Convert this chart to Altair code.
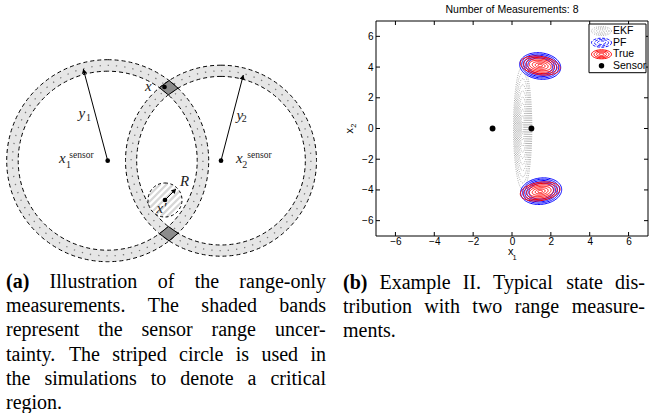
import math
import altair as alt
import pandas as pd

W, H = 650, 413

# ===================== (a) Illustration (pixel units) =====================
ring_cx = [107.7, 221.0]
ring_cy = [160.7, 160.7]
ring_r_in = [89.5, 84.3]
ring_r_out = [101.0, 95.5]

crit_cx = [165.0]
crit_cy = [200.0]
crit_r = [17.0]

dot_x = [107.7, 221.0, 164.5, 165.0]
dot_y = [160.7, 160.7, 87.0, 200.0]

arrow_x0 = [107.7, 221.0, 165.0]
arrow_y0 = [160.7, 160.7, 200.0]
arrow_x1 = [83.3, 243.3, 176.0]
arrow_y1 = [69.0, 75.0, 189.0]

sym_text = ["x", "x", "y", "y", "x", "R", "x\u2032"]
sym_x = [59.0, 236.0, 78.5, 236.5, 145.0, 180.0, 156.5]
sym_y = [163.3, 162.7, 118.3, 120.0, 90.7, 186.0, 213.3]
sub_text = ["1", "2", "1", "2"]
sub_x = [66.0, 242.3, 86.0, 241.7]
sub_y = [167.5, 167.5, 120.5, 122.0]
sup_text = ["sensor", "sensor"]
sup_x = [69.3, 247.3]
sup_y = [158.3, 158.0]

# ===================== (b) Example II =====================
title_b = "Number of Measurements: 8"
tick_values = [-6, -4, -2, 0, 2, 4, 6]
sensor_x1 = [-1.0, 1.0]
sensor_x2 = [0.0, 0.0]

ekf_cx, ekf_cy, ekf_angle = [0.55], [0.05], [0.0]
ekf_a, ekf_b = 0.47, 4.0
ekf_levels = [1.0, 0.9, 0.8, 0.7, 0.6, 0.5, 0.4, 0.3, 0.2, 0.1]

pf_cx = [1.45, 1.5]
pf_cy = [4.07, -4.08]
pf_angle = [-15.0, 15.0]
pf_a, pf_b = 1.07, 0.85
pf_levels = [1.0, 0.9, 0.8, 0.7, 0.6]

true_cx = [1.45, 1.45]
true_cy = [4.1, -4.1]
true_angle = [-13.0, 13.0]
true_a, true_b = 1.04, 0.59
true_levels = [1.0, 0.85, 0.7, 0.55, 0.4, 0.25, 0.12]

legend_labels = ["EKF", "PF", "True", "Sensor"]

caption_a = [
    "(a) Illustration of the range-only",
    "measurements. The shaded bands",
    "represent the sensor range uncer-",
    "tainty. The striped circle is used in",
    "the simulations to denote a critical",
    "region.",
]
caption_b = [
    "(b) Example II. Typical state dis-",
    "tribution with two range measure-",
    "ments.",
]

# ===================== layout =====================
PL, PR, PT, PB = 376.0, 648.0, 21.0, 236.0
LEG = dict(x0=589.0, x1=646.0, y0=24.0, y1=72.7, icon=601.5, text=613.0,
           rows=[31.0, 42.7, 54.3, 65.8])
CAP_SIZE = 20


def px(f):
    return alt.X(f, type="quantitative", scale=None, axis=None)


def py(f):
    return alt.Y(f, type="quantitative", scale=None, axis=None)


XS = alt.Scale(domain=[-7, 7], range=[PL, PR], nice=False, zero=False)
YS = alt.Scale(domain=[-7, 7], range=[PB, PT], nice=False, zero=False)
XA = alt.Axis(values=tick_values, offset=-(H - PB), ticks=False, domain=False, grid=False,
              labelFont="Liberation Sans", labelFontSize=10, labelColor="black",
              labelPadding=0, title=None, format="d")
YA = alt.Axis(values=tick_values, offset=-PL, ticks=False, domain=False, grid=False,
              labelFont="Liberation Sans", labelFontSize=10, labelColor="black",
              labelPadding=3, title=None, format="d")


def bx(f):
    return alt.X(f, type="quantitative", scale=XS, axis=XA)


def by(f):
    return alt.Y(f, type="quantitative", scale=YS, axis=YA)


layers = []

# ---------- (a) bands ----------
rings = pd.DataFrame({"cx": ring_cx, "cy": ring_cy, "ri": ring_r_in, "ro": ring_r_out})
rings["rm"] = (rings["ri"] + rings["ro"]) / 2
rings["zero"] = 0.0

layers.append(alt.Chart(rings).mark_arc(theta=0, theta2=2 * math.pi, fill="#e6e6e6").encode(
    x=px("cx"), y=py("cy"), radius=alt.Radius("ro:Q", scale=None), radius2=alt.Radius2("ri:Q")))
layers.append(alt.Chart(rings).mark_arc(theta=0, theta2=2 * math.pi, filled=False, color="#7a7a7a",
                                        strokeWidth=1.3, strokeDash=[1.3, 7]).encode(
    x=px("cx"), y=py("cy"), radius=alt.Radius("rm:Q", scale=None), radius2=alt.Radius2("zero:Q")))
layers.append(alt.Chart(rings).mark_arc(theta=0, theta2=2 * math.pi, filled=False, color="black",
                                        strokeWidth=1, strokeDash=[4, 3]).encode(
    x=px("cx"), y=py("cy"), radius=alt.Radius("ro:Q", scale=None), radius2=alt.Radius2("ri:Q")))


# ---------- (a) overlap quadrilaterals ----------
def circ_int(r1, r2, upper):
    d = ring_cx[1] - ring_cx[0]
    a = (d * d + r1 * r1 - r2 * r2) / (2 * d)
    h = math.sqrt(max(r1 * r1 - a * a, 0))
    return ring_cx[0] + a, ring_cy[0] + (-h if upper else h)


qrows = []
for qi, upper in enumerate([True, False]):
    corners = [(ring_r_in[0], ring_r_out[1]), (ring_r_out[0], ring_r_out[1]),
               (ring_r_out[0], ring_r_in[1]), (ring_r_in[0], ring_r_in[1])]
    pts = [circ_int(r1, r2, upper) for r1, r2 in corners]
    pts.append(pts[0])
    for i, (qx, qy) in enumerate(pts):
        qrows.append({"id": qi, "i": i, "x": qx, "y": qy})
quads = pd.DataFrame(qrows)
layers.append(alt.Chart(quads).mark_line(fill="#8c8c8c", color="black", strokeWidth=1).encode(
    x=px("x"), y=py("y"), detail="id:N", order="i:Q"))

# ---------- (a) critical region ----------
crit = pd.DataFrame({"cx": crit_cx, "cy": crit_cy, "r": crit_r})
crit["size"] = (2 * crit["r"]) ** 2
layers.append(alt.Chart(crit).mark_point(shape="circle", filled=True, color="white", opacity=1).encode(
    x=px("cx"), y=py("cy"), size=alt.Size("size:Q", scale=None)))
srows = []
r0 = crit_r[0]
nx, ny = 1 / math.sqrt(2), 1 / math.sqrt(2)
dx, dy = 1 / math.sqrt(2), -1 / math.sqrt(2)
k = 0
s = -r0 + 2.5
while s < r0 - 1:
    L = math.sqrt(r0 * r0 - s * s) - 0.8
    mx, my = crit_cx[0] + s * nx, crit_cy[0] + s * ny
    srows.append({"id": k, "i": 0, "x": mx - L * dx, "y": my - L * dy})
    srows.append({"id": k, "i": 1, "x": mx + L * dx, "y": my + L * dy})
    k += 1
    s += 4.6
stripes = pd.DataFrame(srows)
layers.append(alt.Chart(stripes).mark_line(color="#d6d6d6", strokeWidth=2.2).encode(
    x=px("x"), y=py("y"), detail="id:N", order="i:Q"))
crit["zero"] = 0.0
layers.append(alt.Chart(crit).mark_arc(theta=0, theta2=2 * math.pi, filled=False, color="black",
                                       strokeWidth=1, strokeDash=[3, 2.5]).encode(
    x=px("cx"), y=py("cy"), radius=alt.Radius("r:Q", scale=None), radius2=alt.Radius2("zero:Q")))

# ---------- (a) arrows ----------
arows, heads = [], []
for j in range(len(arrow_x0)):
    ax0, ay0, ax1, ay1 = arrow_x0[j], arrow_y0[j], arrow_x1[j], arrow_y1[j]
    arows.append({"id": j, "i": 0, "x": ax0, "y": ay0})
    arows.append({"id": j, "i": 1, "x": ax1, "y": ay1})
    ln = math.hypot(ax1 - ax0, ay1 - ay0)
    ux, uy = (ax1 - ax0) / ln, (ay1 - ay0) / ln
    ang = math.degrees(math.atan2(ux, -uy)) % 360
    heads.append({"x": ax1 - 2.2 * ux, "y": ay1 - 2.2 * uy, "ang": ang})
layers.append(alt.Chart(pd.DataFrame(arows)).mark_line(color="black", strokeWidth=1).encode(
    x=px("x"), y=py("y"), detail="id:N", order="i:Q"))
layers.append(alt.Chart(pd.DataFrame(heads)).mark_point(shape="triangle-up", filled=True, color="black",
                                                        size=28, opacity=1).encode(
    x=px("x"), y=py("y"), angle=alt.Angle("ang:Q", scale=None)))

layers.append(alt.Chart(pd.DataFrame({"x": dot_x, "y": dot_y})).mark_point(
    shape="circle", filled=True, color="black", size=22, opacity=1).encode(x=px("x"), y=py("y")))

# ---------- (a) math labels ----------
layers.append(alt.Chart(pd.DataFrame({"x": sym_x, "y": sym_y, "t": sym_text})).mark_text(
    align="left", baseline="alphabetic", font="Liberation Serif", fontStyle="italic",
    fontSize=15, color="#222").encode(x=px("x"), y=py("y"), text="t:N"))
layers.append(alt.Chart(pd.DataFrame({"x": sub_x, "y": sub_y, "t": sub_text})).mark_text(
    align="left", baseline="alphabetic", font="Liberation Serif", fontSize=10, color="#222").encode(
    x=px("x"), y=py("y"), text="t:N"))
layers.append(alt.Chart(pd.DataFrame({"x": sup_x, "y": sup_y, "t": sup_text})).mark_text(
    align="left", baseline="alphabetic", font="Liberation Serif", fontSize=9.5, color="#222").encode(
    x=px("x"), y=py("y"), text="t:N"))

# ---------- (b) frame ----------
frame = pd.DataFrame({"a": [-7.0], "b": [7.0], "c": [-7.0], "d": [7.0]})
layers.append(alt.Chart(frame).mark_rect(fill="white", stroke="black", strokeWidth=1).encode(
    x=bx("a"), x2="b", y=by("c"), y2="d"))

ticks = pd.DataFrame({"t": tick_values})
layers.append(alt.Chart(ticks).mark_rule(color="black").encode(x=bx("t"), y=alt.value(PB), y2=alt.value(PB - 4)))
layers.append(alt.Chart(ticks).mark_rule(color="black").encode(x=bx("t"), y=alt.value(PT), y2=alt.value(PT + 4)))
layers.append(alt.Chart(ticks).mark_rule(color="black").encode(y=by("t"), x=alt.value(PL), x2=alt.value(PL + 4)))
layers.append(alt.Chart(ticks).mark_rule(color="black").encode(y=by("t"), x=alt.value(PR), x2=alt.value(PR - 4)))


# ---------- (b) contours ----------
def ellipse_rows(cxs, cys, angles, a, b, levels, n=90):
    rows = []
    for j, (cx, cy, angd) in enumerate(zip(cxs, cys, angles)):
        th = math.radians(angd)
        for kk, sc in enumerate(levels):
            for i in range(n + 1):
                p = 2 * math.pi * i / n
                ex, ey = a * sc * math.cos(p), b * sc * math.sin(p)
                rows.append({"id": f"{j}_{kk}", "i": i,
                             "x1": cx + ex * math.cos(th) - ey * math.sin(th),
                             "x2": cy + ex * math.sin(th) + ey * math.cos(th)})
    return pd.DataFrame(rows)


ekf = ellipse_rows(ekf_cx, ekf_cy, ekf_angle, ekf_a, ekf_b, ekf_levels)
pf = ellipse_rows(pf_cx, pf_cy, pf_angle, pf_a, pf_b, pf_levels)
tru = ellipse_rows(true_cx, true_cy, true_angle, true_a, true_b, true_levels)
layers.append(alt.Chart(ekf).mark_line(color="#999999", strokeWidth=0.8, strokeDash=[1, 1.3]).encode(
    x=bx("x1"), y=by("x2"), detail="id:N", order="i:Q"))
layers.append(alt.Chart(pf).mark_line(color="#0000ff", strokeWidth=1).encode(
    x=bx("x1"), y=by("x2"), detail="id:N", order="i:Q"))
layers.append(alt.Chart(tru).mark_line(color="#ff0000", strokeWidth=1).encode(
    x=bx("x1"), y=by("x2"), detail="id:N", order="i:Q"))
layers.append(alt.Chart(pd.DataFrame({"x1": sensor_x1, "x2": sensor_x2})).mark_point(
    shape="circle", filled=True, color="black", size=34, opacity=1).encode(x=bx("x1"), y=by("x2")))

# ---------- (b) title and axis titles ----------
layers.append(alt.Chart(pd.DataFrame({"x": [(PL + PR) / 2], "y": [10.0], "t": [title_b]})).mark_text(
    font="Liberation Sans", fontSize=10.5, baseline="middle", color="black").encode(
    x=px("x"), y=py("y"), text="t:N"))
axt = pd.DataFrame({"x": [510.8, 350.0], "y": [252.3, 130.7], "t": ["x", "x"], "a": [0, 270]})
axs = pd.DataFrame({"x": [514.6, 353.6], "y": [258.0, 125.6], "t": ["1", "2"], "a": [0, 270]})
layers.append(alt.Chart(axt).mark_text(font="Liberation Sans", fontSize=11, baseline="middle",
                                       color="black").encode(
    x=px("x"), y=py("y"), text="t:N", angle=alt.Angle("a:Q", scale=None)))
layers.append(alt.Chart(axs).mark_text(font="Liberation Sans", fontSize=7.5, baseline="middle",
                                       color="black").encode(
    x=px("x"), y=py("y"), text="t:N", angle=alt.Angle("a:Q", scale=None)))

# ---------- (b) legend ----------
layers.append(alt.Chart(pd.DataFrame({"a": [LEG["x0"]], "b": [LEG["x1"]], "c": [LEG["y0"]], "d": [LEG["y1"]]}))
              .mark_rect(fill="white", stroke="black", strokeWidth=1).encode(
    x=px("a"), x2="b", y=py("c"), y2="d"))


def icon_rows(cy, rx, ry, levels, n=40):
    rows = []
    for kk, sc in enumerate(levels):
        for i in range(n + 1):
            p = 2 * math.pi * i / n
            rows.append({"id": kk, "i": i, "x": LEG["icon"] + rx * sc * math.cos(p),
                         "y": cy + ry * sc * math.sin(p)})
    return pd.DataFrame(rows)


layers.append(alt.Chart(icon_rows(LEG["rows"][0], 10, 4.5, [1.0, 0.75, 0.5, 0.25])).mark_line(
    color="#999999", strokeWidth=0.8, strokeDash=[1, 1.3]).encode(
    x=px("x"), y=py("y"), detail="id:N", order="i:Q"))
layers.append(alt.Chart(icon_rows(LEG["rows"][1], 10, 4.5, [1.0, 0.7, 0.4])).mark_line(
    color="#0000ff", strokeWidth=1, strokeDash=[3, 1.5]).encode(
    x=px("x"), y=py("y"), detail="id:N", order="i:Q"))
layers.append(alt.Chart(icon_rows(LEG["rows"][2], 10, 4.5, [1.0, 0.75, 0.5, 0.25])).mark_line(
    color="#ff0000", strokeWidth=1).encode(
    x=px("x"), y=py("y"), detail="id:N", order="i:Q"))
layers.append(alt.Chart(pd.DataFrame({"x": [LEG["icon"]], "y": [LEG["rows"][3]]})).mark_point(
    shape="circle", filled=True, color="black", size=30, opacity=1).encode(x=px("x"), y=py("y")))
layers.append(alt.Chart(pd.DataFrame({"x": [LEG["text"]] * 4, "y": LEG["rows"], "t": legend_labels}))
              .mark_text(align="left", baseline="middle", font="Liberation Sans", fontSize=10.5,
                         color="black").encode(x=px("x"), y=py("y"), text="t:N"))

# ---------- captions (justified using Times metrics) ----------
TR = {' ': 250, '(': 333, ')': 333, '-': 333, '.': 250, 'a': 444, 'b': 500, 'c': 444, 'd': 500,
      'e': 444, 'f': 333, 'g': 500, 'h': 500, 'i': 278, 'j': 278, 'k': 500, 'l': 278, 'm': 778,
      'n': 500, 'o': 500, 'p': 500, 'q': 500, 'r': 333, 's': 389, 't': 278, 'u': 500, 'v': 500,
      'w': 722, 'x': 500, 'y': 500, 'z': 444, 'I': 333, 'T': 611, 'E': 611}
TB = {'(': 333, ')': 333, 'a': 500, 'b': 556}


def wid(s, bold):
    tab = TB if bold else TR
    return sum(tab.get(ch, 500) for ch in s) / 1000 * CAP_SIZE


def layout_caption(lines, left, right, base0, lead):
    rows = []
    for li, line in enumerate(lines):
        words = line.split()
        yb = base0 + li * lead
        bolds = [li == 0 and wi == 0 for wi in range(len(words))]
        widths = [wid(w, b) for w, b in zip(words, bolds)]
        if li == len(lines) - 1 or len(words) == 1:
            gap = 0.25 * CAP_SIZE
        else:
            gap = (right - left - sum(widths)) / (len(words) - 1)
        xx = left
        for w, b, wd in zip(words, bolds, widths):
            rows.append({"w": w, "x": xx, "y": yb, "bold": b})
            xx += wd + gap
    return rows


cap = pd.DataFrame(layout_caption(caption_a, 6.0, 326.0, 288.0, 24.2)
                   + layout_caption(caption_b, 343.0, 645.0, 288.5, 24.2))
layers.append(alt.Chart(cap[~cap["bold"]]).mark_text(
    align="left", baseline="alphabetic", font="Liberation Serif", fontSize=CAP_SIZE, color="black").encode(
    x=px("x"), y=py("y"), text="w:N"))
layers.append(alt.Chart(cap[cap["bold"]]).mark_text(
    align="left", baseline="alphabetic", font="Liberation Serif", fontWeight="bold", fontSize=CAP_SIZE,
    color="black").encode(x=px("x"), y=py("y"), text="w:N"))

chart = alt.layer(*layers).properties(
    width=W, height=H, padding=0, autosize=alt.AutoSizeParams(type="none"), background="white"
).configure_view(strokeWidth=0)

chart.save("out.html", embed_options={"renderer": "svg", "actions": False})
